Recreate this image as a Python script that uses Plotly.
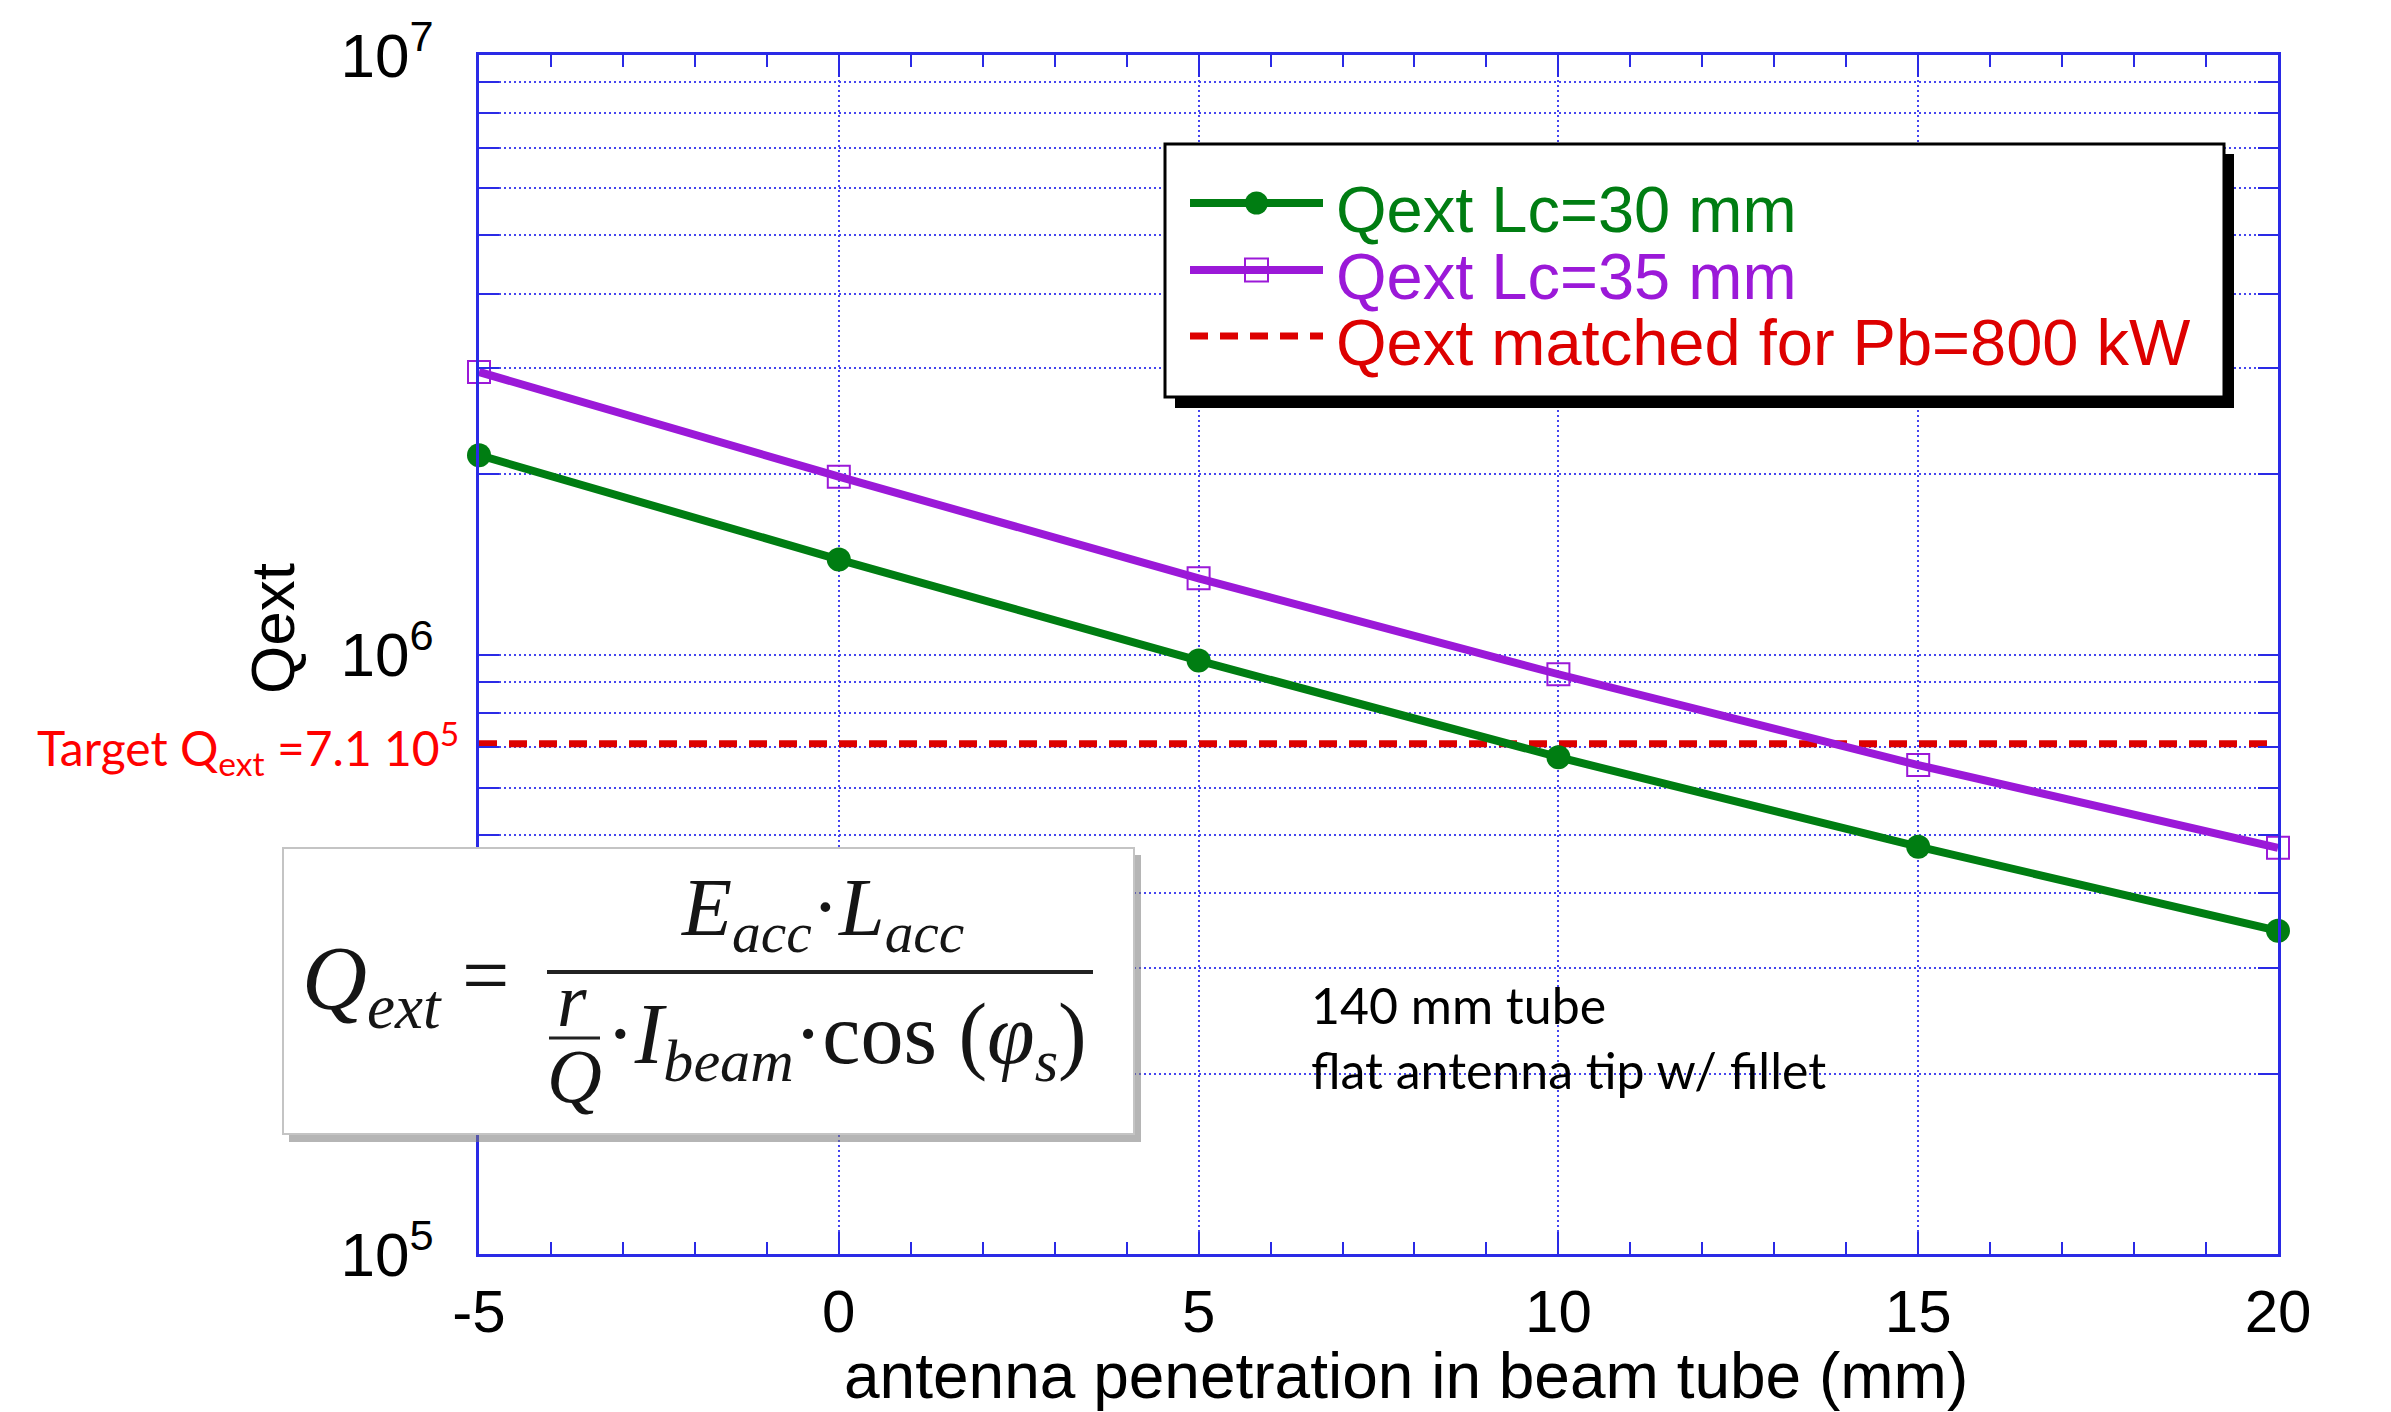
import plotly.graph_objects as go

# ---------------- data ----------------
x_mm = [-5, 0, 5, 10, 15, 20]
qext_lc30 = [2.15e6, 1.44e6, 9.77e5, 6.74e5, 4.78e5, 3.46e5]
qext_lc35 = [2.96e6, 1.98e6, 1.34e6, 9.27e5, 6.54e5, 4.76e5]
qext_target = 7.1e5
x_range = [-5, 20]
x_tick_vals = [-5, 0, 5, 10, 15, 20]
x_tick_text = ["-5", "0", "5", "10", "15", "20"]
y_major_vals = [1e5, 1e6, 1e7]
y_major_text = ["10<sup>5</sup>", "10<sup>6</sup>", "10<sup>7</sup>"]
y_minor_mults = [2, 3, 4, 5, 6, 7, 8, 9]
series_names = ["Qext Lc=30 mm", "Qext Lc=35 mm", "Qext matched for Pb=800 kW"]
x_title = "antenna penetration in beam tube (mm)"
y_title = "Qext"
target_label = "Target Q<sub>ext</sub> =7.1 10<sup>5</sup>"
note_lines = ["140 mm tube", "flat antenna tip w/ fillet"]

# ---------------- style ----------------
W, H = 2391, 1412
L, R, T, B = 479, 2278, 55, 1254
GREEN = "#007d12"
PURPLE = "#9b19d8"
RED = "#dd0000"
BLUE = "#2a2ae6"
GRID = "#4545f0"
SANS = "Liberation Sans, Arial, sans-serif"
CAL = "Lato, Carlito, sans-serif"
SERIF = "Liberation Serif, DejaVu Serif, serif"
INK = "#151515"


def px(xp):
    return (xp - L) / (R - L)


def py(yp):
    return (B - yp) / (B - T)


y_minor_vals = [m * v for v in y_major_vals[:-1] for m in y_minor_mults]

fig = go.Figure()
fig.add_trace(go.Scatter(
    x=x_range, y=[qext_target, qext_target], mode="lines", name=series_names[2],
    line=dict(color=RED, width=7, dash="18px,12px"), showlegend=False, cliponaxis=False))
fig.add_trace(go.Scatter(
    x=x_mm, y=qext_lc35, mode="lines+markers", name=series_names[1],
    line=dict(color=PURPLE, width=8),
    marker=dict(symbol="square-open", size=22, color=PURPLE, line=dict(width=2, color=PURPLE)),
    showlegend=False, cliponaxis=False))
fig.add_trace(go.Scatter(
    x=x_mm, y=qext_lc30, mode="lines+markers", name=series_names[0],
    line=dict(color=GREEN, width=8),
    marker=dict(symbol="circle", size=24, color=GREEN),
    showlegend=False, cliponaxis=False))

fig.update_layout(
    width=W, height=H, autosize=False,
    margin=dict(l=L, r=W - R, t=T, b=H - B, pad=0),
    paper_bgcolor="white", plot_bgcolor="white",
    showlegend=False,
    xaxis=dict(
        range=x_range, tickmode="array", tickvals=x_tick_vals, ticktext=x_tick_text,
        ticks="inside", ticklen=22, tickwidth=2, tickcolor=BLUE,
        showline=True, linecolor=BLUE, linewidth=3, mirror="ticks",
        showgrid=True, gridcolor=GRID, gridwidth=1.5, griddash="2px,3px",
        zeroline=False,
        minor=dict(dtick=1, tick0=0, ticks="inside", ticklen=12, tickwidth=2,
                   tickcolor=BLUE, showgrid=False),
        tickfont=dict(family=SANS, size=60, color="black"),
        ticklabelstandoff=3,
    ),
    yaxis=dict(
        type="log", range=[5, 7], tickmode="array", tickvals=y_major_vals,
        ticktext=y_major_text,
        ticks="inside", ticklen=20, tickwidth=2, tickcolor=BLUE,
        showline=True, linecolor=BLUE, linewidth=3, mirror="ticks",
        showgrid=True, gridcolor=GRID, gridwidth=1.5, griddash="2px,3px",
        zeroline=False,
        minor=dict(tickmode="array", tickvals=y_minor_vals, ticks="inside", ticklen=20,
                   tickwidth=2, tickcolor=BLUE, showgrid=True, gridcolor=GRID,
                   gridwidth=1.5, griddash="2px,3px"),
        tickfont=dict(family=SANS, size=62, color="black"),
        ticklabelstandoff=30,
    ),
)

shapes = []
ann = []

# ---------- custom legend ----------
shapes.append(dict(type="rect", xref="paper", yref="paper", layer="above",
                   x0=px(1175), x1=px(2234), y0=py(154), y1=py(408),
                   fillcolor="black", line=dict(width=0)))
shapes.append(dict(type="rect", xref="paper", yref="paper", layer="above",
                   x0=px(1165), x1=px(2224), y0=py(144), y1=py(397),
                   fillcolor="white", line=dict(color="black", width=3)))
rows = [203, 270, 336]
colors = [GREEN, PURPLE, RED]
for i, (yy, c) in enumerate(zip(rows, colors)):
    shapes.append(dict(type="line", xref="paper", yref="paper", layer="above",
                       x0=px(1190), x1=px(1323), y0=py(yy), y1=py(yy),
                       line=dict(color=c, width=8 if i < 2 else 7,
                                 dash="18px,12px" if i == 2 else "solid")))
    ann.append(dict(xref="paper", yref="paper", x=px(1334), y=py(yy + 6), xanchor="left",
                    yanchor="middle", showarrow=False, text=series_names[i],
                    font=dict(family=SANS, size=65, color=c)))
shapes.append(dict(type="circle", xref="paper", yref="paper", layer="above",
                   x0=px(1245), x1=px(1268), y0=py(rows[0] - 11.5), y1=py(rows[0] + 11.5),
                   fillcolor=GREEN, line=dict(color=GREEN, width=0)))
shapes.append(dict(type="rect", xref="paper", yref="paper", layer="above",
                   x0=px(1245), x1=px(1268), y0=py(rows[1] - 11.5), y1=py(rows[1] + 11.5),
                   fillcolor="rgba(0,0,0,0)", line=dict(color=PURPLE, width=2)))

# ---------- formula box ----------
shapes.append(dict(type="rect", xref="paper", yref="paper", layer="above",
                   x0=px(289), x1=px(1141), y0=py(855), y1=py(1142),
                   fillcolor="rgba(120,120,120,0.55)", line=dict(width=0)))
shapes.append(dict(type="rect", xref="paper", yref="paper", layer="above",
                   x0=px(283), x1=px(1134), y0=py(848), y1=py(1134),
                   fillcolor="white", line=dict(color="#c4c4c4", width=2)))
shapes.append(dict(type="line", xref="paper", yref="paper", layer="above",
                   x0=px(547), x1=px(1093), y0=py(972), y1=py(972),
                   line=dict(color="#222222", width=4)))
shapes.append(dict(type="line", xref="paper", yref="paper", layer="above",
                   x0=px(549), x1=px(600), y0=py(1038), y1=py(1038),
                   line=dict(color="#222222", width=3)))
ann.append(dict(xref="paper", yref="paper", x=px(300), y=py(985), xanchor="left",
                yanchor="middle", showarrow=False,
                text="<i>Q<sub>ext</sub></i>",
                font=dict(family=SERIF, size=90, color=INK)))
ann.append(dict(xref="paper", yref="paper", x=px(485), y=py(975), xanchor="center",
                yanchor="middle", showarrow=False, text="=",
                font=dict(family=SERIF, size=84, color=INK)))
ann.append(dict(xref="paper", yref="paper", x=px(822), y=py(913), xanchor="center",
                yanchor="middle", showarrow=False,
                text="<i>E<sub>acc</sub></i>·<i>L<sub>acc</sub></i>",
                font=dict(family=SERIF, size=82, color=INK)))
ann.append(dict(xref="paper", yref="paper", x=px(572), y=py(1000), xanchor="center",
                yanchor="middle", showarrow=False, text="<i>r</i>",
                font=dict(family=SERIF, size=76, color=INK)))
ann.append(dict(xref="paper", yref="paper", x=px(574), y=py(1076), xanchor="center",
                yanchor="middle", showarrow=False, text="<i>Q</i>",
                font=dict(family=SERIF, size=76, color=INK)))
ann.append(dict(xref="paper", yref="paper", x=px(604), y=py(1040), xanchor="left",
                yanchor="middle", showarrow=False,
                text="·<i>I<sub>beam</sub></i>·cos (<i>φ<sub>s</sub></i>)",
                font=dict(family=SERIF, size=86, color=INK)))

# ---------- other text ----------
ann.append(dict(xref="paper", yref="paper", x=px(1406), y=py(1376), xanchor="center",
                yanchor="middle", showarrow=False, text=x_title,
                font=dict(family=SANS, size=64, color="black")))
ann.append(dict(xref="paper", yref="paper", x=px(272), y=py(629), xanchor="center",
                yanchor="middle", showarrow=False, text=y_title, textangle=-90,
                font=dict(family=SANS, size=62, color="black")))
ann.append(dict(xref="paper", yref="paper", x=px(461), y=py(748), xanchor="right",
                yanchor="middle", showarrow=False, text=target_label,
                font=dict(family=CAL, size=48, color="#ff0000")))
ann.append(dict(xref="paper", yref="paper", x=px(1309), y=py(1005), xanchor="left",
                yanchor="middle", showarrow=False, text=note_lines[0],
                font=dict(family=CAL, size=50, color="black")))
ann.append(dict(xref="paper", yref="paper", x=px(1309), y=py(1070), xanchor="left",
                yanchor="middle", showarrow=False, text=note_lines[1],
                font=dict(family=CAL, size=50, color="black")))

fig.update_layout(shapes=shapes, annotations=ann)
fig.write_html("out.html")
